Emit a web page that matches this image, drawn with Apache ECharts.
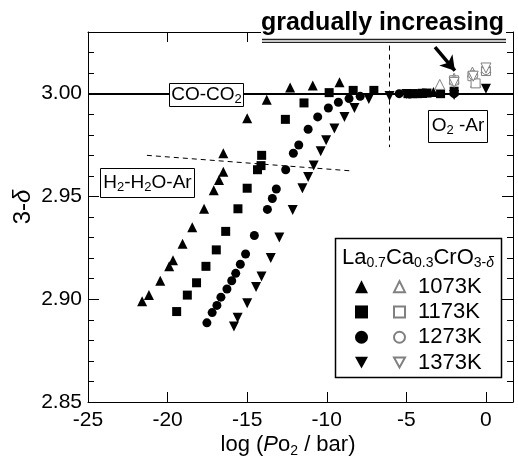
<!DOCTYPE html>
<html>
<head>
<meta charset="utf-8">
<script src="https://cdn.jsdelivr.net/npm/echarts@6/dist/echarts.min.js"></script>
<style>
  html, body { margin: 0; padding: 0; background: #fff; }
  #main { width: 518px; height: 462px; }
</style>
</head>
<body>
<div id="main"></div>
<script>
// tick labels
var xTickLabels = [-25, -20, -15, -10, -5, 0];
var yTickLabels = ['2.85', '2.90', '2.95', '3.00'];

// filled symbols (series 1), [log Po2, 3-delta]
var fill1073 = [[-21.6,2.899],[-21.17,2.902],[-20.46,2.909],[-19.9,2.916],[-19.66,2.919],[-19.06,2.927],
  [-18.45,2.935],[-17.71,2.944],[-17.1,2.953],[-16.77,2.958],[-16.5,2.962],[-16.5,2.971],[-15.0,2.988],
  [-13.77,2.997],[-12.3,3.003],[-10.88,3.004],[-9.2,3.0055],[-4.0,3.0003],[-3.3,3.0008]];
var fill1173 = [[-19.43,2.894],[-18.76,2.902],[-18.18,2.908],[-17.59,2.916],[-16.94,2.924],[-16.35,2.933],
  [-15.58,2.944],[-15.0,2.954],[-14.35,2.963],[-14.13,2.965],[-14.09,2.970],[-12.6,2.9875],[-11.43,2.9955],
  [-9.85,3.0005],[-8.34,3.0016],[-7.04,3.0016],[-4.9,3.0],[-4.6,3.0],[-4.3,3.0],[-4.0,3.0002],[-3.7,3.0003],
  [-2.85,3.0],[-2.0,3.0012]];
var fill1273 = [[-17.53,2.8885],[-17.2,2.8935],[-16.9,2.897],[-16.65,2.901],[-16.27,2.905],[-15.97,2.909],
  [-15.72,2.9126],[-15.43,2.917],[-15.1,2.922],[-14.55,2.931],[-13.73,2.9437],[-13.42,2.949],[-13.17,2.9536],
  [-12.58,2.963],[-12.1,2.971],[-11.76,2.975],[-11.17,2.9827],[-10.57,2.9887],[-9.9,2.993],[-9.27,2.9958],
  [-8.6,2.9976],[-7.9,2.9987],[-5.45,3.0],[-4.8,2.9998],[-3.9,3.0002],[-2.0,3.0]];
var fill1373 = [[-15.83,2.8867],[-15.6,2.891],[-15.0,2.898],[-14.44,2.906],[-14.1,2.911],[-13.52,2.920],
  [-12.98,2.930],[-12.14,2.9434],[-11.53,2.954],[-11.17,2.9595],[-10.82,2.965],[-10.38,2.972],[-10.04,2.9773],
  [-9.52,2.983],[-8.89,2.9887],[-8.26,2.993],[-7.36,2.9974],[-6.06,2.9989],[-5.0,2.9998],[-2.0,2.9993],[0.0,3.0024]];

// open symbols (series 2)
var open1073 = [[-2.9,3.0045],[-2.0,3.0075],[-0.85,3.0105],[-0.65,3.0055],[0.0,3.0125]];
var open1173 = [[-2.0,3.0065],[-0.85,3.0085],[-0.65,3.005],[0.0,3.011]];
var open1273 = [[-2.0,3.006],[-0.8,3.009],[0.0,3.0115]];
var open1373 = [[-2.0,3.0055],[-0.8,3.0085],[0.0,3.0125]];

// guide lines
var boundaryLow = [[-21.3, 2.970], [-8.4, 2.9624]];
var boundaryHigh = [[-6.06, 3.0234], [-6.06, 2.974]];
var arrowLine = [[-3.2, 3.0226], [-1.95, 3.0112]];
var refLevel = 3.0;

var FONT = '"Liberation Sans", Arial, sans-serif';
var downTri = 'path://M0,0 L10,0 L5,9 Z';

var chart = echarts.init(document.getElementById('main'));

function filled(name, data, symbol, size) {
  return {
    name: name, type: 'scatter', data: data, symbol: symbol, symbolSize: size,
    itemStyle: { color: '#000', opacity: 1 }, z: 3
  };
}
function open(name, data, symbol, size) {
  return {
    name: name, type: 'scatter', data: data, symbol: symbol, symbolSize: size,
    itemStyle: { color: '#fff', borderColor: '#808080', borderWidth: 1, opacity: 1 }, z: 4
  };
}

var sub = { fontSize: 13, lineHeight: 13, verticalAlign: 'bottom', fontFamily: FONT, fill: '#000' };
var frameLine = { onZero: false, lineStyle: { color: '#000', width: 1 } };

var option = {
  animation: false,
  backgroundColor: '#fff',
  textStyle: { fontFamily: FONT },
  grid: { left: 88, right: 5, top: 32, bottom: 60, outerBoundsMode: 'none' },
  xAxis: [{
    type: 'value', min: -25, max: 1.7, interval: 5, position: 'bottom',
    axisLine: frameLine,
    axisTick: { inside: true, length: 10, lineStyle: { color: '#000' } },
    axisLabel: {
      fontSize: 21, color: '#000', margin: 8, fontFamily: FONT,
      formatter: function (v) { return xTickLabels.indexOf(Math.round(v * 1000) / 1000) >= 0 ? String(v) : ''; }
    },
    splitLine: { show: false },
    name: '{a|log (}{i|P}{a|o}{s|2}{a| / bar)}',
    nameLocation: 'middle', nameGap: 30, nameMoveOverlap: false,
    nameTextStyle: {
      padding: [0, 25, 0, 0],
      rich: {
        a: { fontSize: 22, lineHeight: 26, fontFamily: FONT, color: '#000' },
        i: { fontSize: 22, lineHeight: 26, fontStyle: 'italic', fontFamily: FONT, color: '#000' },
        s: { fontSize: 14, lineHeight: 14, verticalAlign: 'bottom', fontFamily: FONT, color: '#000' }
      }
    }
  }, {
    type: 'value', min: -25, max: 1.7, interval: 5, position: 'top',
    axisLine: frameLine,
    axisTick: { inside: true, length: 10, lineStyle: { color: '#000' } },
    axisLabel: { show: false }, splitLine: { show: false }
  }],
  yAxis: [{
    type: 'value', min: 2.85, max: 3.03, interval: 0.05, position: 'left',
    axisLine: frameLine,
    axisTick: { inside: true, length: 11, lineStyle: { color: '#000' } },
    minorTick: { show: true, splitNumber: 5, length: 6, lineStyle: { color: '#000' } },
    axisLabel: {
      fontSize: 21, color: '#000', margin: 6, fontFamily: FONT,
      formatter: function (v) { var s = v.toFixed(2); return yTickLabels.indexOf(s) >= 0 ? s : ''; }
    },
    splitLine: { show: false }
  }, {
    type: 'value', min: 2.85, max: 3.03, interval: 0.05, position: 'right',
    axisLine: frameLine,
    axisTick: { inside: true, length: 11, lineStyle: { color: '#000' } },
    minorTick: { show: true, splitNumber: 5, length: 6, lineStyle: { color: '#000' } },
    axisLabel: { show: false }, splitLine: { show: false }
  }],
  legend: [{
    data: ['1073K', '1173K', '1273K', '1373K'],
    orient: 'vertical', left: 350, top: 269, itemWidth: 13, itemHeight: 13, itemGap: 0,
    selectedMode: false, formatter: function () { return ' '; },
    textStyle: { fontSize: 22, lineHeight: 25.3 }
  }, {
    data: ['1073K open', '1173K open', '1273K open', '1373K open'],
    orient: 'vertical', left: 388, top: 269, itemWidth: 11, itemHeight: 11, itemGap: 0,
    selectedMode: false, formatter: function (n) { return n.replace(' open', ''); },
    textStyle: { fontSize: 22, lineHeight: 25.3, color: '#000', fontFamily: FONT, padding: [0, 0, 0, 8] }
  }],
  series: [
    {
      name: 'guides', type: 'scatter', data: [], silent: true,
      markLine: {
        silent: true, symbol: 'none', animation: false,
        label: { show: false },
        data: [
          [{ coord: boundaryLow[0] }, { coord: boundaryLow[1] }],
          [{ coord: boundaryHigh[0] }, { coord: boundaryHigh[1] }],
          [{ coord: arrowLine[0], lineStyle: { type: 'solid', width: 3.5 }, symbol: 'none' },
           { coord: arrowLine[1], symbol: 'arrow', symbolSize: [13, 14] }],
          { yAxis: refLevel, lineStyle: { type: 'solid', width: 1.8 } }
        ],
        lineStyle: { color: '#000', type: [5, 4], width: 1 }
      }
    },
    filled('1073K', fill1073, 'triangle', 10),
    filled('1173K', fill1173, 'rect', 9),
    filled('1273K', fill1273, 'circle', 9),
    filled('1373K', fill1373, downTri, 10),
    open('1073K open', open1073, 'triangle', 10),
    open('1173K open', open1173, 'rect', 9),
    open('1273K open', open1273, 'circle', 9),
    open('1373K open', open1373, downTri, 10)
  ],
  graphic: [
    { type: 'rect', z: 100, shape: { x: 261, y: 0, width: 245, height: 45 }, style: { fill: '#fff' } },
    { type: 'text', z: 101, x: 382.5, y: 23,
      style: { text: 'gradually increasing', font: 'bold 25px ' + FONT, fill: '#000', align: 'center', verticalAlign: 'middle' } },
    { type: 'line', z: 101, shape: { x1: 262, y1: 39.5, x2: 506, y2: 39.5 }, style: { stroke: '#222', lineWidth: 1.3 } },
    { type: 'line', z: 101, shape: { x1: 262, y1: 42.3, x2: 506, y2: 42.3 }, style: { stroke: '#222', lineWidth: 1.3 } },

    // y axis name
    { type: 'text', z: 101, x: 23, y: 207, rotation: Math.PI / 2,
      style: { text: '{a|3-}{b|δ}', align: 'center', verticalAlign: 'middle',
        rich: {
          a: { fontSize: 24, fontFamily: FONT, fill: '#000' },
          b: { fontSize: 24, fontStyle: 'italic', fontFamily: FONT, fill: '#000' }
        } } },

    { type: 'rect', z: 100, shape: { x: 169.5, y: 83.5, width: 74, height: 23 }, style: { fill: '#fff', stroke: '#000', lineWidth: 1 } },
    { type: 'text', z: 101, x: 206.5, y: 95,
      style: { text: '{n|CO-CO}{s|2}', align: 'center', verticalAlign: 'middle',
        rich: { n: { fontSize: 19, lineHeight: 22, fontFamily: FONT, fill: '#000' }, s: sub } } },

    { type: 'rect', z: 100, shape: { x: 428.5, y: 110.5, width: 59, height: 32 }, style: { fill: '#fff', stroke: '#000', lineWidth: 1 } },
    { type: 'text', z: 101, x: 458, y: 126,
      style: { text: '{n|O}{s|2}{n| -Ar}', align: 'center', verticalAlign: 'middle',
        rich: { n: { fontSize: 19, lineHeight: 22, fontFamily: FONT, fill: '#000' }, s: sub } } },

    { type: 'rect', z: 100, shape: { x: 100.5, y: 168.5, width: 94, height: 29 }, style: { fill: '#fff', stroke: '#000', lineWidth: 1 } },
    { type: 'text', z: 101, x: 147.5, y: 183,
      style: { text: '{n|H}{s|2}{n|-H}{s|2}{n|O-Ar}', align: 'center', verticalAlign: 'middle',
        rich: { n: { fontSize: 19, lineHeight: 22, fontFamily: FONT, fill: '#000' }, s: sub } } },

    { type: 'rect', z: 1, shape: { x: 335.5, y: 238.5, width: 166, height: 139 }, style: { fill: '#fff', stroke: '#000', lineWidth: 1.5 } },
    { type: 'text', z: 101, x: 418, y: 258,
      style: { text: '{n|La}{s|0.7}{n|Ca}{s|0.3}{n|CrO}{s|3-}{si|δ}', align: 'center', verticalAlign: 'middle',
        rich: {
          n: { fontSize: 22, lineHeight: 24, fontFamily: FONT, fill: '#000' },
          s: { fontSize: 14, lineHeight: 14, verticalAlign: 'bottom', fontFamily: FONT, fill: '#000' },
          si: { fontSize: 14, lineHeight: 14, verticalAlign: 'bottom', fontStyle: 'italic', fontFamily: FONT, fill: '#000' }
        } } }
  ]
};

chart.setOption(option);
</script>
</body>
</html>
